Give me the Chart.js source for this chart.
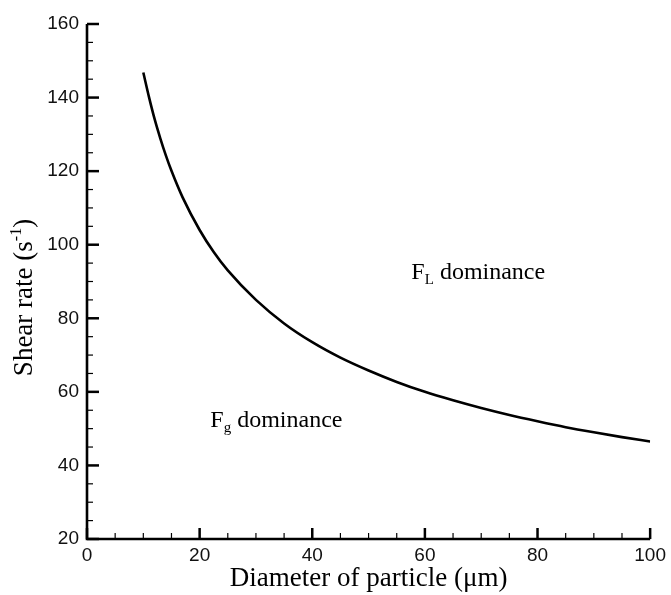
<!DOCTYPE html>
<html>
<head>
<meta charset="utf-8">
<script src="https://cdn.jsdelivr.net/npm/chart.js@4.4.1/dist/chart.umd.min.js"></script>
<style>
html,body{margin:0;padding:0;background:#fff;}
#wrap{width:671px;height:595px;position:relative;}
</style>
</head>
<body>
<div id="wrap"><canvas id="c" width="671" height="595"></canvas></div>
<script>
// Diameter of particle (µm)
const diameters = [10, 11, 12, 13, 14, 15, 17, 20, 22.5, 25, 30, 35, 40, 45, 50, 55, 60, 65, 70, 75, 80, 85, 90, 95, 100];
// Shear rate (s^-1)
const shearRates = [146.8, 140.2, 134.2, 129, 124.3, 120.1, 112.8, 104, 98, 93, 85, 78.6, 73.5, 69.3, 65.8, 62.7, 60, 57.7, 55.6, 53.7, 52, 50.4, 49, 47.7, 46.5];
const xTicks = [0, 20, 40, 60, 80, 100];
const yTicks = [20, 40, 60, 80, 100, 120, 140, 160];
const xTitle = 'Diameter of particle (\u03bcm)';
const yTitleMain = 'Shear rate (s';
const yTitleSup = '-1';
const yTitleEnd = ')';
// region labels: [main, subscript, rest, x, y]
const regionLabels = [
  ['F', 'L', ' dominance', 57.6, 90.7],
  ['F', 'g', ' dominance', 21.9, 50.4]
];

const serif = '"Liberation Serif", "Times New Roman", serif';
const sans = '"Liberation Sans", Arial, sans-serif';

const decor = {
  id: 'decor',
  afterDraw(chart) {
    const ctx = chart.ctx;
    const xs = chart.scales.x, ys = chart.scales.y;
    const ca = chart.chartArea;
    ctx.save();
    ctx.strokeStyle = '#000';
    // inward ticks
    for (let v = 0; v <= 100; v += 5) {
      const px = xs.getPixelForValue(v);
      const len = (v % 20 === 0) ? 11 : 6;
      ctx.lineWidth = (v % 20 === 0) ? 2.5 : 1.2;
      ctx.beginPath(); ctx.moveTo(px, ca.bottom); ctx.lineTo(px, ca.bottom - len); ctx.stroke();
    }
    for (let v = 20; v <= 160; v += 5) {
      const py = ys.getPixelForValue(v);
      const len = (v % 20 === 0) ? 12 : 6;
      ctx.lineWidth = (v % 20 === 0) ? 2.5 : 1.2;
      ctx.beginPath(); ctx.moveTo(ca.left, py); ctx.lineTo(ca.left + len, py); ctx.stroke();
    }
    // axis lines
    ctx.lineWidth = 2.6;
    ctx.beginPath();
    ctx.moveTo(ca.left, ca.top); ctx.lineTo(ca.left, ca.bottom); ctx.lineTo(ca.right, ca.bottom);
    ctx.stroke();
    // region labels
    ctx.fillStyle = '#000';
    ctx.textBaseline = 'alphabetic';
    ctx.textAlign = 'left';
    regionLabels.forEach(([m, s, r, x, y]) => {
      let px = xs.getPixelForValue(x), py = ys.getPixelForValue(y);
      ctx.font = '24px ' + serif;
      ctx.fillText(m, px, py); px += ctx.measureText(m).width;
      ctx.font = '15px ' + serif;
      ctx.fillText(s, px, py + 5); px += ctx.measureText(s).width;
      ctx.font = '24px ' + serif;
      ctx.fillText(r, px, py);
    });
    // y title with superscript
    ctx.translate(32, (ca.top + ca.bottom) / 2 + 16);
    ctx.rotate(-Math.PI / 2);
    ctx.font = '27px ' + serif;
    const w1 = ctx.measureText(yTitleMain).width;
    ctx.font = '16px ' + serif;
    const w2 = ctx.measureText(yTitleSup).width;
    ctx.font = '27px ' + serif;
    const w3 = ctx.measureText(yTitleEnd).width;
    let tx = -(w1 + w2 + w3) / 2;
    ctx.fillText(yTitleMain, tx, 0); tx += w1;
    ctx.font = '16px ' + serif;
    ctx.fillText(yTitleSup, tx, -11); tx += w2;
    ctx.font = '27px ' + serif;
    ctx.fillText(yTitleEnd, tx, 0);
    ctx.restore();
  }
};

new Chart(document.getElementById('c'), {
  type: 'line',
  data: {
    datasets: [{
      data: diameters.map((d, i) => ({x: d, y: shearRates[i]})),
      borderColor: '#000',
      borderWidth: 2.6,
      pointRadius: 0,
      fill: false,
      cubicInterpolationMode: 'monotone'
    }]
  },
  options: {
    responsive: false,
    animation: false,
    events: [],
    layout: {padding: {top: 24, right: 18, left: 0, bottom: 0}},
    plugins: {legend: {display: false}, tooltip: {enabled: false}},
    scales: {
      x: {
        type: 'linear', min: 0, max: 100,
        afterBuildTicks: s => { s.ticks = xTicks.map(v => ({value: v})); },
        afterFit: s => { s.height = 56; },
        grid: {display: false, drawTicks: false},
        border: {display: false},
        ticks: {padding: 5, color: '#111', font: {family: sans, size: 19}},
        title: {display: true, text: xTitle, color: '#000', font: {family: serif, size: 27}, padding: {top: 0, bottom: 0}}
      },
      y: {
        type: 'linear', min: 20, max: 160,
        afterBuildTicks: s => { s.ticks = yTicks.map(v => ({value: v})); },
        afterFit: s => { s.width = 87; },
        grid: {display: false, drawTicks: false},
        border: {display: false},
        ticks: {padding: 8, color: '#111', font: {family: sans, size: 19}}
      }
    }
  },
  plugins: [decor]
});
</script>
</body>
</html>
